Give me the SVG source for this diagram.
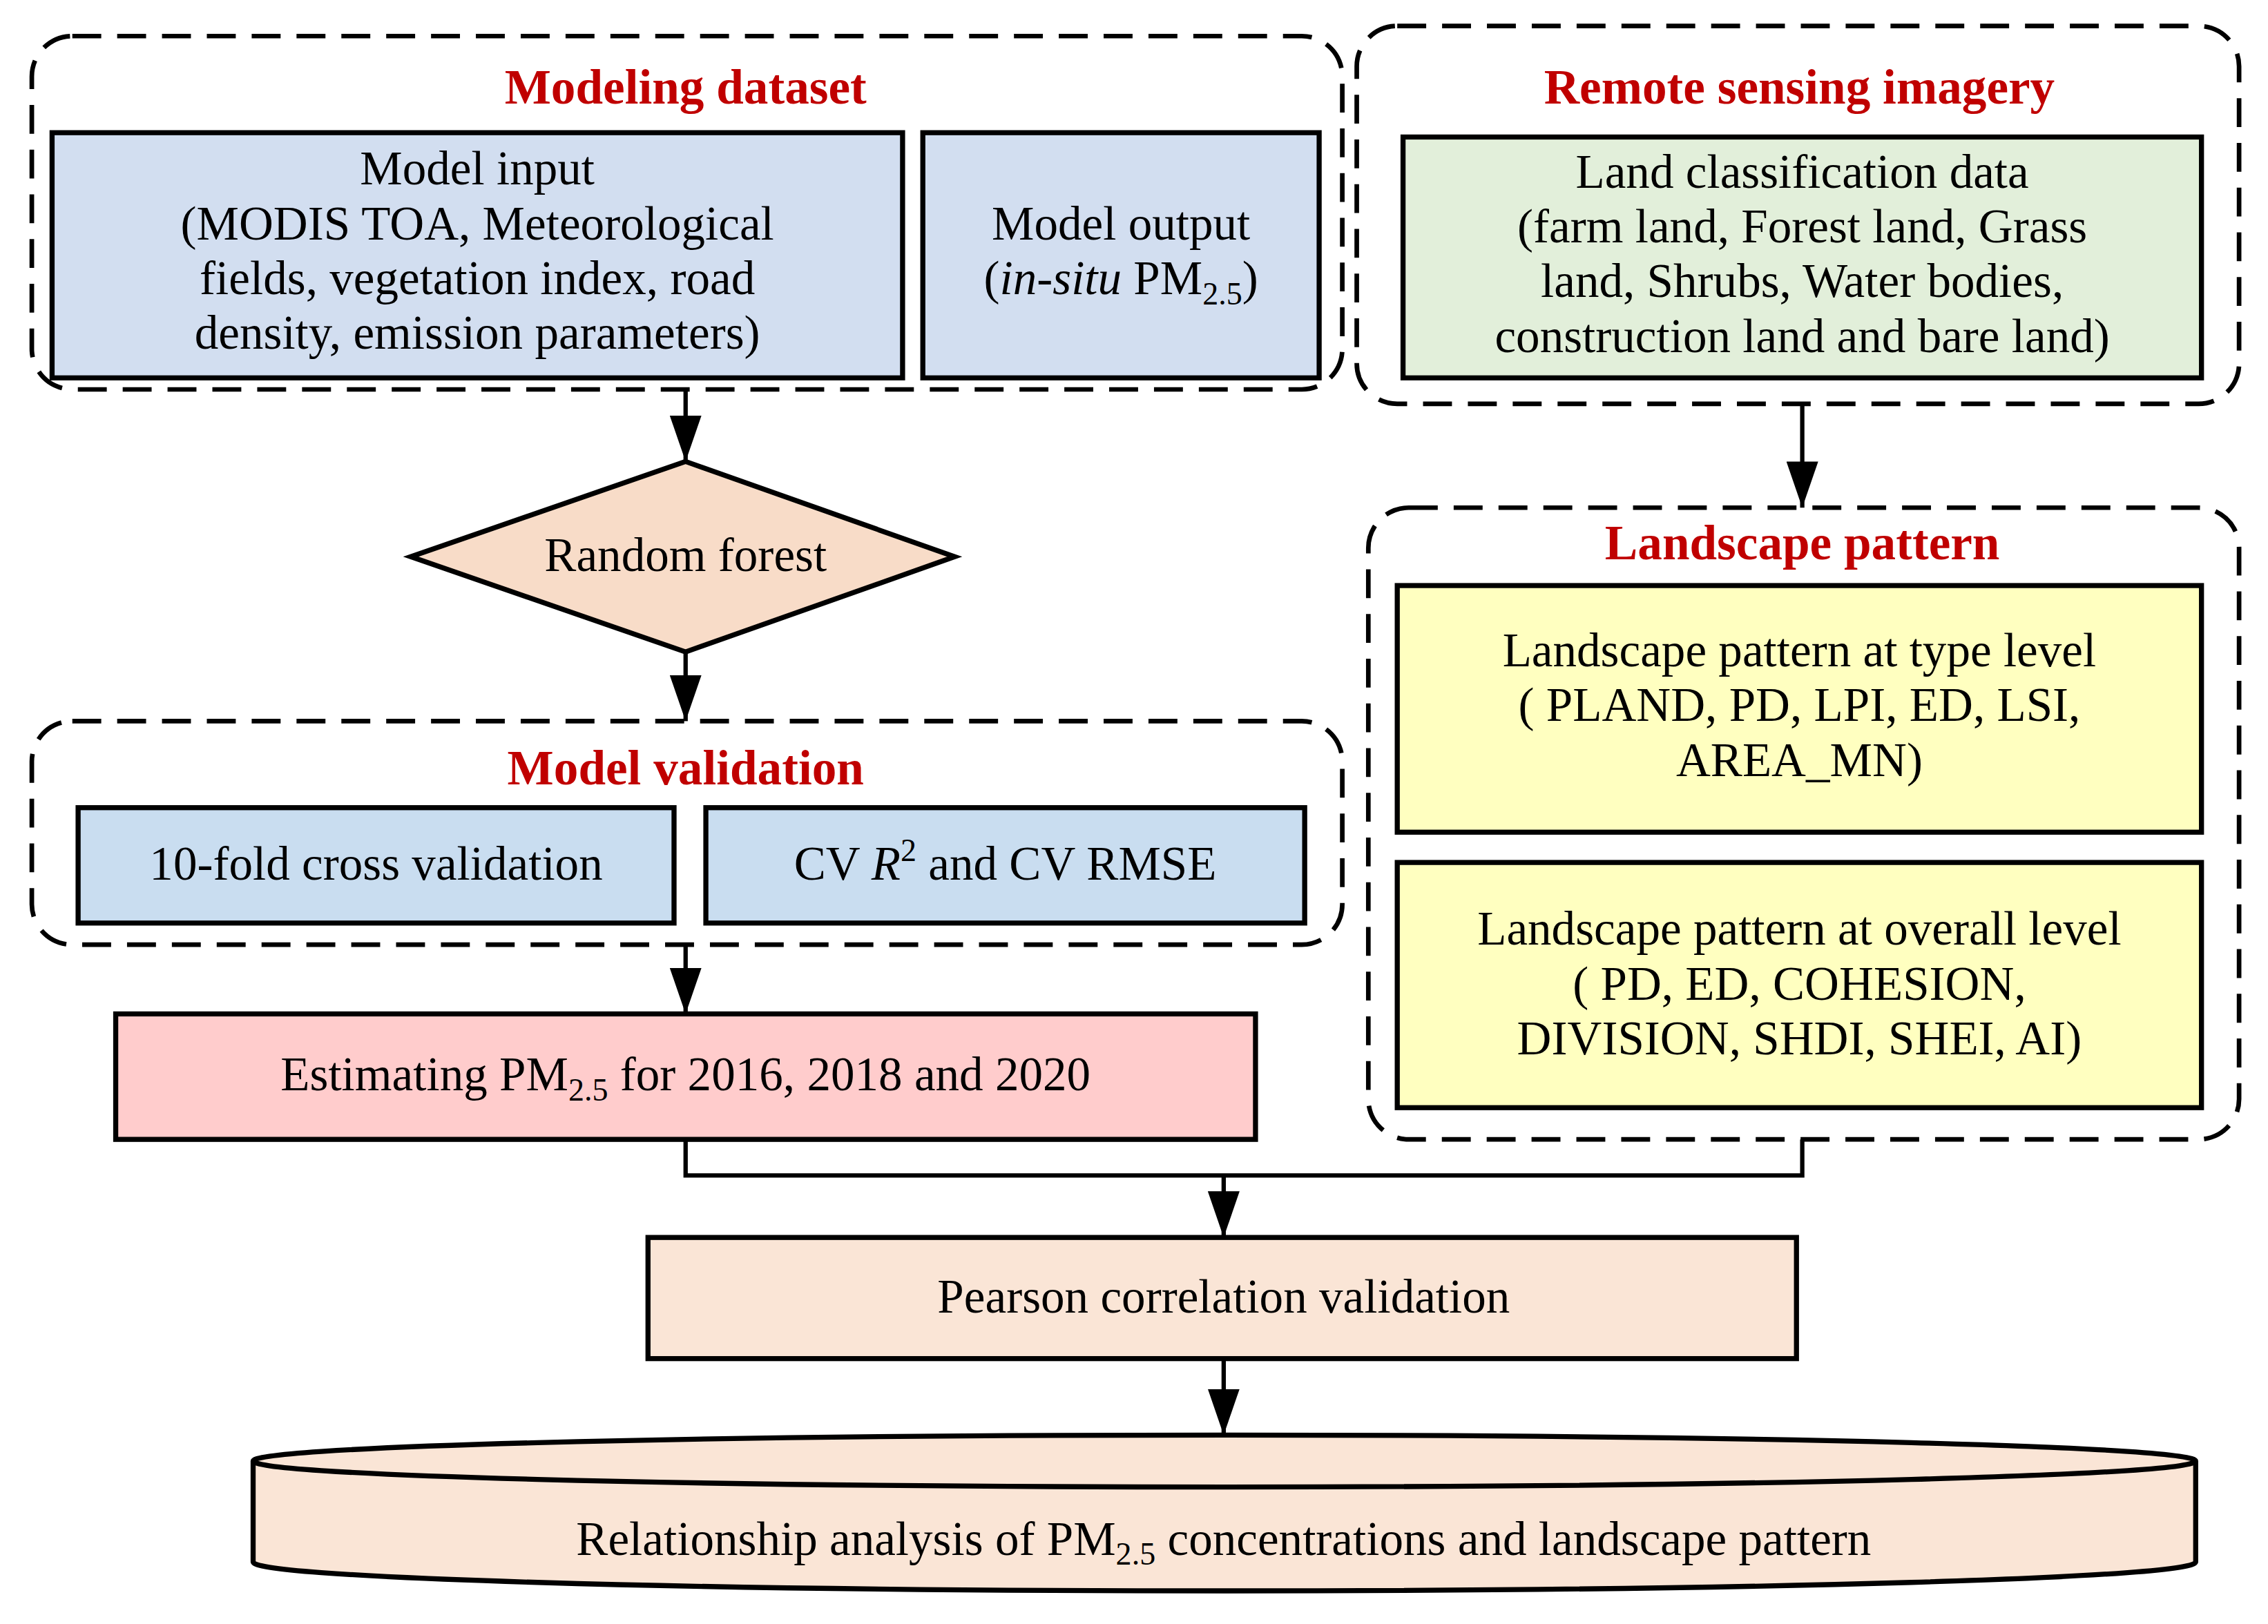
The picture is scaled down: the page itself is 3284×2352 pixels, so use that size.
<svg xmlns="http://www.w3.org/2000/svg" width="3284" height="2352" viewBox="0 0 3284 2352">
<style>
text{font-family:"Liberation Serif","Times New Roman",serif;font-size:33px;fill:#000;text-anchor:middle}
.t{font-weight:bold;fill:#C00000;font-size:34px}
.d{fill:none;stroke:#000;stroke-width:3.2;stroke-dasharray:20 11}
.b{stroke:#000;stroke-width:3.5}
.c{fill:none;stroke:#000;stroke-width:3}
.s{font-size:22px}
</style>
<defs><marker id="a" markerWidth="10" markerHeight="14" refX="5" refY="14" orient="0" markerUnits="userSpaceOnUse" viewBox="0 0 10 14"><path d="M0,0 L5,14 L10,0Z" fill="#000"/></marker>
<marker id="ah" viewBox="0 0 22 32" refX="11" refY="32" markerWidth="22" markerHeight="32" markerUnits="userSpaceOnUse"><path d="M0,0 L11,32 L22,0Z" fill="#000"/></marker></defs>
<rect width="3284" height="2352" fill="#fff"/>
<g transform="scale(2.0944,2.0888)">
<g id="modeling-dataset"><rect class="d" x="22" y="25" width="906" height="245" rx="28"/><text class="t" x="474" y="72">Modeling dataset</text></g>
<g id="model-input"><rect class="b" x="36" y="92" width="588" height="170" fill="#D2DEF0"/>
<text x="330" y="128">Model input</text><text x="330" y="166">(MODIS TOA, Meteorological</text><text x="330" y="204">fields, vegetation index, road</text><text x="330" y="242">density, emission parameters)</text></g>
<g id="model-output"><rect class="b" x="638" y="92" width="274" height="170" fill="#D2DEF0"/>
<text x="775" y="166">Model output</text><text x="775" y="204">(<tspan font-style="italic">in-situ</tspan> PM<tspan class="s" dy="7">2.5</tspan><tspan dy="-7">)</tspan></text></g>
<g id="remote-sensing"><rect class="d" x="938" y="18" width="610" height="262" rx="28"/><text class="t" x="1244" y="72">Remote sensing imagery</text></g>
<g id="land-classification"><rect class="b" x="970" y="95" width="552" height="167" fill="#E2EFDA"/>
<text x="1246" y="130">Land classification data</text><text x="1246" y="168">(farm land, Forest land, Grass</text><text x="1246" y="206">land, Shrubs, Water bodies,</text><text x="1246" y="244">construction land and bare land)</text></g>
<g id="random-forest"><path class="b" d="M474,320 L660,386 L474,452 L284,386Z" fill="#F8DCC8"/><text x="474" y="396">Random forest</text></g>
<g id="model-validation"><rect class="d" x="22" y="500" width="906" height="155" rx="28"/><text class="t" x="474" y="544">Model validation</text></g>
<g id="cv10"><rect class="b" x="54" y="560" width="412" height="80" fill="#C9DDF0"/><text x="260" y="610">10-fold cross validation</text></g>
<g id="cvr2"><rect class="b" x="488" y="560" width="414" height="80" fill="#C9DDF0"/><text x="695" y="610">CV <tspan font-style="italic">R</tspan><tspan class="s" dy="-13">2</tspan><tspan dy="13"> and CV RMSE</tspan></text></g>
<g id="estimating"><rect class="b" x="80" y="703" width="788" height="87" fill="#FFCCCC"/><text x="474" y="756">Estimating PM<tspan class="s" dy="7">2.5</tspan><tspan dy="-7"> for 2016, 2018 and 2020</tspan></text></g>
<g id="landscape-pattern"><rect class="d" x="946" y="352" width="602" height="438" rx="28"/><text class="t" x="1246" y="388">Landscape pattern</text></g>
<g id="type-level"><rect class="b" x="966" y="406" width="556" height="171" fill="#FFFFC0"/>
<text x="1244" y="462">Landscape pattern at type level</text><text x="1244" y="500">( PLAND, PD, LPI, ED, LSI,</text><text x="1244" y="538">AREA_MN)</text></g>
<g id="overall-level"><rect class="b" x="966" y="598" width="556" height="170" fill="#FFFFC0"/>
<text x="1244" y="655">Landscape pattern at overall level</text><text x="1244" y="693">( PD, ED, COHESION,</text><text x="1244" y="731">DIVISION, SHDI, SHEI, AI)</text></g>
<g id="pearson"><rect class="b" x="448" y="858" width="794" height="84" fill="#FAE5D6"/><text x="846" y="910">Pearson correlation validation</text></g>
<g id="relationship"><path class="b" d="M175,1013 L175,1083 A671,20 0 0 0 1518,1083 L1518,1013" fill="#FAE5D6"/><ellipse class="b" cx="846.5" cy="1013" rx="671.5" ry="18" fill="#FAE5D6"/>
<text x="846" y="1078">Relationship analysis of PM<tspan class="s" dy="7">2.5</tspan><tspan dy="-7"> concentrations and landscape pattern</tspan></text></g>
<g id="connectors">
<path class="c" d="M474,270 V320" marker-end="url(#ah)"/>
<path class="c" d="M474,452 V500" marker-end="url(#ah)"/>
<path class="c" d="M474,655 V703" marker-end="url(#ah)"/>
<path class="c" d="M1246,280 V352" marker-end="url(#ah)"/>
<path class="c" d="M474,790 V815 H1246 V790"/>
<path class="c" d="M846,815 V858" marker-end="url(#ah)"/>
<path class="c" d="M846,942 V995" marker-end="url(#ah)"/>
</g>
</g>
</svg>
